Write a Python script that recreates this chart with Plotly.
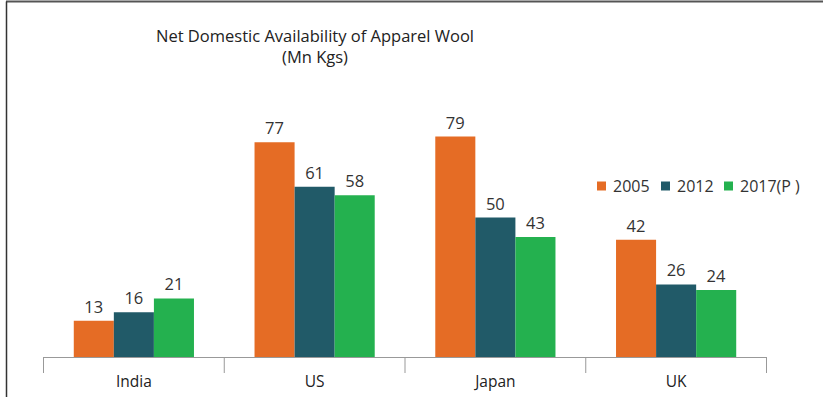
import plotly.graph_objects as go

categories = ["India", "US", "Japan", "UK"]
series_names = ["2005", "2012", "2017(P )"]
values_2005 = [13, 77, 79, 42]
values_2012 = [16, 61, 50, 26]
values_2017 = [21, 58, 43, 24]
colors = ["#E56C25", "#215A68", "#24B14F"]

W, H = 823, 397
left, right = 43, 767
top, bottom = 78, 357
FONT = "Open Sans, sans-serif"


def px(xp):
    return (xp - left) / (right - left)


def py(yp):
    return (bottom - yp) / (bottom - top)


fig = go.Figure()
for name, vals, col in zip(series_names, [values_2005, values_2012, values_2017], colors):
    fig.add_trace(go.Bar(
        x=categories, y=vals, name=name, marker_color=col, marker_line_width=0,
        text=[str(v) for v in vals], textposition="outside", cliponaxis=False,
        textfont=dict(family=FONT, size=16.5, color="#333333"),
    ))

fig.update_layout(
    width=W, height=H, barmode="group", bargap=0.335, bargroupgap=0,
    paper_bgcolor="white", plot_bgcolor="white",
    margin=dict(l=left, r=W - right, t=top, b=H - bottom, pad=0, autoexpand=False),
    showlegend=False,
    font=dict(family=FONT, size=15, color="#333333"),
    xaxis=dict(showline=True, linecolor="#999999", linewidth=1, ticks="", showgrid=False,
               tickfont=dict(size=15.5, color="#222222"), ticklabelstandoff=10),
    yaxis=dict(range=[0, 100], visible=False, showgrid=False),
)

# legend (square swatch + label for each series)
legend_x = [597, 661, 724]
legend_y = 186
for name, col, lx in zip(series_names, colors, legend_x):
    fig.add_shape(type="rect", xref="paper", yref="paper",
                  x0=px(lx), x1=px(lx + 9), y0=py(legend_y - 4.5), y1=py(legend_y + 4.5),
                  fillcolor=col, line=dict(width=0))
    fig.add_annotation(text=name, xref="paper", yref="paper", x=px(lx + 14), y=py(legend_y),
                       xanchor="left", yanchor="middle", showarrow=False,
                       font=dict(family=FONT, size=16, color="#333333"))

# category boundary ticks
for i in range(len(categories) + 1):
    fig.add_shape(type="line", xref="x", yref="paper", x0=i - 0.5, x1=i - 0.5,
                  y0=0, y1=-16 / (bottom - top), line=dict(color="#999999", width=1))

fig.add_annotation(text="Net Domestic Availability of Apparel Wool<br>(Mn Kgs)",
                   xref="paper", yref="paper", x=px(315), y=py(46),
                   xanchor="center", yanchor="middle",
                   showarrow=False, align="center",
                   font=dict(family=FONT, size=16.5, color="#222222"))

# chart frame lines (top and left)
fig.add_shape(type="line", xref="paper", yref="paper", x0=px(6), x1=px(W),
              y0=py(1.5), y1=py(1.5), line=dict(color="#555555", width=2))
fig.add_shape(type="line", xref="paper", yref="paper", x0=px(6.5), x1=px(6.5),
              y0=py(1.5), y1=py(H), line=dict(color="#333333", width=1.5))

fig.write_html("out.html")
